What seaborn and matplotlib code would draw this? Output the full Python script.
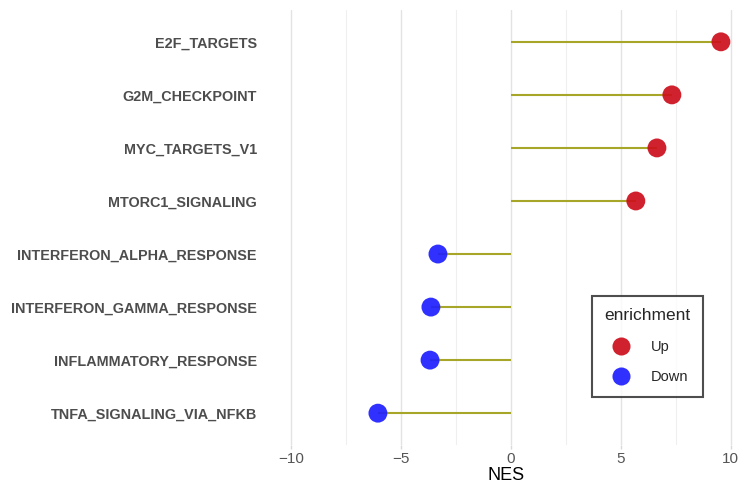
import matplotlib
matplotlib.use("Agg")
import matplotlib.pyplot as plt
from matplotlib.lines import Line2D
from matplotlib.ticker import MultipleLocator
import seaborn as sns
import pandas as pd

# Hallmark pathways, listed bottom to top
pathways = [
    "TNFA_SIGNALING_VIA_NFKB",
    "INFLAMMATORY_RESPONSE",
    "INTERFERON_GAMMA_RESPONSE",
    "INTERFERON_ALPHA_RESPONSE",
    "MTORC1_SIGNALING",
    "MYC_TARGETS_V1",
    "G2M_CHECKPOINT",
    "E2F_TARGETS",
]
nes = [-6.05, -3.68, -3.64, -3.32, 5.68, 6.64, 7.32, 9.55]
enrichment = ["Down" if v < 0 else "Up" for v in nes]
x_ticks = [-10, -5, 0, 5, 10]

df = pd.DataFrame({"pathway": pathways, "NES": nes, "enrichment": enrichment})

sns.set_theme(style="white")
plt.rcParams["font.family"] = ["Liberation Sans", "DejaVu Sans"]

palette = {"Up": "#cc0f1c", "Down": "#1f1fff"}

fig = plt.figure(figsize=(7.44, 4.97), dpi=100)
ax = fig.add_axes([268 / 744, 1 - 445 / 497, (744 - 268) / 744, (445 - 10) / 497])

# stems from zero to each score
ax.hlines(df["pathway"], 0, df["NES"], color="#a8a628", linewidth=1.5, zorder=2)

sns.scatterplot(
    data=df, x="NES", y="pathway", hue="enrichment", palette=palette,
    s=185, alpha=0.92, edgecolor="none", legend=False, ax=ax, zorder=3,
)

ax.set_xlim(-11.05, 10.6)
ax.set_ylim(-0.6, len(pathways) - 0.4)
ax.set_xticks(x_ticks)
ax.set_xticklabels(["\u221210", "\u22125", "0", "5", "10"])
ax.xaxis.set_minor_locator(MultipleLocator(2.5))
ax.grid(axis="x", which="major", color="#e3e3e3", linewidth=1.0)
ax.grid(axis="x", which="minor", color="#efefef", linewidth=0.8)
ax.grid(axis="y", visible=False)
ax.set_axisbelow(True)
for sp in ax.spines.values():
    sp.set_visible(False)

ax.tick_params(axis="x", which="major", length=3, width=1.0, color="#d9d9d9",
               labelsize=11, labelcolor="#555555", pad=2, bottom=True)
ax.tick_params(axis="x", which="minor", length=0)
ax.tick_params(axis="y", length=0, labelsize=10.4, labelcolor="#4d4d4d", pad=8)
for lab in ax.get_yticklabels():
    lab.set_fontweight("bold")

ax.set_xlabel("NES", fontsize=13, color="black", labelpad=1)
ax.set_ylabel("")

handles = [
    Line2D([0], [0], marker="o", linestyle="", markersize=13,
           markerfacecolor=palette[k], markeredgecolor="none", alpha=0.92, label=k)
    for k in ["Up", "Down"]
]
leg = ax.legend(
    handles=handles, title="enrichment", loc="upper left",
    bbox_to_anchor=((592 - 268) / 476, 1 - (296 - 10) / 435),
    frameon=True, fancybox=False, fontsize=10.5, title_fontsize=12.5,
    borderpad=0.85, labelspacing=1.1, handletextpad=1.0, borderaxespad=0,
)
leg._legend_box.sep = 12
leg.get_frame().set_edgecolor("#222222")
leg.get_frame().set_linewidth(1.5)

fig.savefig("out.png", dpi=100, facecolor="white")
